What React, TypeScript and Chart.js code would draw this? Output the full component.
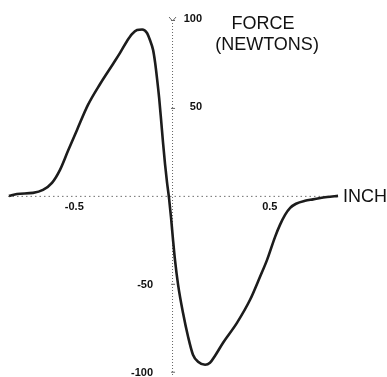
import React, { useEffect, useRef } from "react";
import { Chart, registerables } from "chart.js";

Chart.register(...registerables);

// Displacement (inch) and force (newtons)
const displacement = [
  -0.834, -0.793, -0.711, -0.66, -0.614, -0.573, -0.532, -0.486, -0.43, -0.368,
  -0.302, -0.266, -0.23, -0.205, -0.179, -0.153, -0.128, -0.113, -0.097, -0.087,
  -0.077, -0.066, -0.056, -0.046, -0.036, -0.026, -0.015, -0.005, 0.005, 0.015,
  0.031, 0.056, 0.082, 0.107, 0.133, 0.169, 0.194, 0.22, 0.261, 0.332,
  0.399, 0.45, 0.486, 0.527, 0.552, 0.578, 0.604, 0.634, 0.68, 0.721,
  0.793, 0.849,
];
const force = [
  0, 1.1, 1.7, 3.4, 7.4, 14.8, 25.6, 37.5, 51.7, 63.6,
  75.0, 81.3, 88.1, 92.0, 94.3, 94.6, 92.6, 88.6, 83.0, 76.1,
  67.0, 55.7, 43.2, 30.1, 18.2, 8.0, -1.7, -12.5, -25.0, -36.4,
  -50.6, -66.5, -80.1, -90.3, -94.3, -96.0, -94.9, -90.9, -83.5, -72.2,
  -59.1, -46.0, -36.4, -23.3, -16.5, -10.8, -6.8, -4.5, -2.8, -2.0,
  -0.6, 0,
];

const xTicks = [-0.5, 0.5];
const xTickLabels = ["-0.5", "0.5"];
const yTicks = [100, 50, -50, -100];
const yTickLabels = ["100", "50", "-50", "-100"];

const xAxisTitle = "INCH";
const yAxisTitle = ["FORCE", "(NEWTONS)"];

const X_MIN = -0.839;
const X_MAX = 0.859;
const Y_MIN = -103;
const Y_MAX = 100;

const axesPlugin = {
  id: "centeredAxes",
  beforeDatasetsDraw(chart: any) {
    const { ctx, chartArea, scales } = chart;
    const x0 = scales.x.getPixelForValue(0);
    const y0 = scales.y.getPixelForValue(0);
    ctx.save();
    // x axis (dotted)
    ctx.strokeStyle = "#6f6f6f";
    ctx.lineWidth = 1;
    ctx.setLineDash([1.5, 3]);
    ctx.beginPath();
    ctx.moveTo(chartArea.left, y0 + 0.5);
    ctx.lineTo(chartArea.right, y0 + 0.5);
    ctx.stroke();
    // y axis (dotted)
    ctx.strokeStyle = "#666";
    ctx.setLineDash([1, 2]);
    ctx.beginPath();
    ctx.moveTo(x0 + 0.5, chartArea.top);
    ctx.lineTo(x0 + 0.5, chartArea.bottom);
    ctx.stroke();
    ctx.setLineDash([]);
    // small mark at the top of y axis
    ctx.beginPath();
    ctx.moveTo(x0 - 3, chartArea.top - 3);
    ctx.lineTo(x0 + 0.5, chartArea.top + 1);
    ctx.lineTo(x0 + 4, chartArea.top - 3);
    ctx.stroke();
    // small tick marks on y axis
    yTicks.forEach((v) => {
      const py = scales.y.getPixelForValue(v);
      ctx.beginPath();
      ctx.moveTo(x0 - 1, py + 0.5);
      ctx.lineTo(x0 + 3, py + 0.5);
      ctx.stroke();
    });
    ctx.restore();
  },
  afterDraw(chart: any) {
    const { ctx, chartArea, scales } = chart;
    const x0 = scales.x.getPixelForValue(0);
    const y0 = scales.y.getPixelForValue(0);
    ctx.save();
    ctx.fillStyle = "#111";
    // tick labels
    ctx.font = "bold 11px 'Liberation Sans', Arial, sans-serif";
    ctx.textBaseline = "middle";
    ctx.textAlign = "center";
    xTicks.forEach((v, i) => {
      ctx.fillText(xTickLabels[i], scales.x.getPixelForValue(v), y0 + 11);
    });
    ctx.textAlign = "right";
    yTicks.forEach((v, i) => {
      const py = scales.y.getPixelForValue(v);
      if (v > 0) {
        ctx.fillText(yTickLabels[i], x0 + 30, py - 1);
      } else {
        ctx.fillText(yTickLabels[i], x0 - 19, py + 1);
      }
    });
    // axis titles
    ctx.font = "18px 'Liberation Sans', Arial, sans-serif";
    ctx.textAlign = "left";
    ctx.fillText(xAxisTitle, chartArea.right + 3, y0 + 1);
    ctx.textAlign = "center";
    ctx.fillText(yAxisTitle[0], x0 + 91, chartArea.top + 4);
    ctx.fillText(yAxisTitle[1], x0 + 95, chartArea.top + 25);
    ctx.restore();
  },
};

export default function App() {
  const canvasRef = useRef<HTMLCanvasElement | null>(null);

  useEffect(() => {
    if (!canvasRef.current) return;
    const points = displacement.map((x, i) => ({ x, y: force[i] }));
    const chart = new Chart(canvasRef.current, {
      type: "line",
      data: {
        datasets: [
          {
            data: points,
            borderColor: "#1c1c1c",
            borderWidth: 2.6,
            pointRadius: 0,
            fill: false,
            cubicInterpolationMode: "monotone",
            clip: false as any,
          },
        ],
      },
      options: {
        responsive: false,
        animation: false,
        layout: { padding: { left: 8, right: 47, top: 20, bottom: 0 } },
        scales: {
          x: {
            type: "linear",
            min: X_MIN,
            max: X_MAX,
            display: false,
            afterBuildTicks: (s: any) => {
              s.ticks = xTicks.map((value) => ({ value }));
            },
          },
          y: {
            type: "linear",
            min: Y_MIN,
            max: Y_MAX,
            display: false,
            afterBuildTicks: (s: any) => {
              s.ticks = yTicks.map((value) => ({ value }));
            },
          },
        },
        plugins: {
          legend: { display: false },
          tooltip: { enabled: false },
        },
      },
      plugins: [axesPlugin],
    });
    return () => chart.destroy();
  }, []);

  return (
    <div
      style={{
        position: "absolute",
        left: 0,
        top: 0,
        width: 387,
        height: 377,
        background: "#fff",
      }}
    >
      <canvas ref={canvasRef} width={387} height={377} />
    </div>
  );
}
